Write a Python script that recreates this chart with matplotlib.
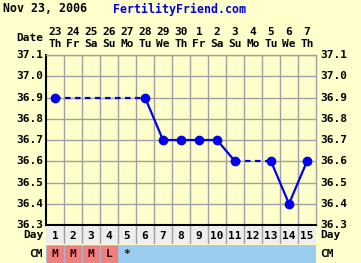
import numpy as np
import matplotlib
matplotlib.use("Agg")
import matplotlib.pyplot as plt
from matplotlib.patches import Rectangle

# chart data
dates = ["23", "24", "25", "26", "27", "28", "29", "30", "1", "2", "3", "4", "5", "6", "7"]
weekdays = ["Th", "Fr", "Sa", "Su", "Mo", "Tu", "We", "Th", "Fr", "Sa", "Su", "Mo", "Tu", "We", "Th"]
cycle_days = list(range(1, 16))
temps = [36.9, None, None, None, None, 36.9, 36.7, 36.7, 36.7, 36.7, 36.6, None, 36.6, 36.4, 36.6]
cm = ["M", "M", "M", "L", "*", "", "", "", "", "", "", "", "", "", ""]
y_ticks = [36.3, 36.4, 36.5, 36.6, 36.7, 36.8, 36.9, 37.0, 37.1]

W, H = 361, 263
BG = "#FFFFCC"
BLUE = "#0000EE"
GRID = "#A0A0A0"
FONT = dict(family="DejaVu Sans Mono", fontweight="bold", fontsize=8)

fig = plt.figure(figsize=(W / 100, H / 100), dpi=100)
fig.patch.set_facecolor(BG)


def px_axes(x0, y0, x1, y1):
    # axes from pixel box (top-left origin)
    return fig.add_axes([x0 / W, 1 - y1 / H, (x1 - x0) / W, (y1 - y0) / H])


left, right, top, bottom = 46, 316, 55, 225
ax = px_axes(left, top, right, bottom)
ax.set_facecolor(BG)
ax.set_xlim(0.5, 15.5)
ax.set_ylim(36.3, 37.1)
for x in np.arange(1.5, 15.5, 1):
    ax.axvline(x, color=GRID, lw=1.0, zorder=1)
for y in y_ticks[1:]:
    ax.axhline(y, color=GRID, lw=1.0, zorder=1)
ax.set_xticks([])
ax.set_yticks([])
for s in ["top", "right"]:
    ax.spines[s].set_color(GRID)
    ax.spines[s].set_linewidth(1.0)
ax.spines["left"].set_color("#000000")
ax.spines["left"].set_linewidth(1.5)
ax.spines["bottom"].set_color("#000000")
ax.spines["bottom"].set_linewidth(1.5)

# temperature line: solid between consecutive days, dashed over gaps
pts = [(d, t) for d, t in zip(cycle_days, temps) if t is not None]
for (d0, t0), (d1, t1) in zip(pts[:-1], pts[1:]):
    ls = "-" if d1 - d0 == 1 else (0, (2.5, 2))
    ax.plot([d0, d1], [t0, t1], color=BLUE, lw=1.6, ls=ls, zorder=3)
ax.plot([p[0] for p in pts], [p[1] for p in pts], "o", color=BLUE, ms=6, zorder=4)

# y labels on both sides
for y in y_ticks:
    ypx = top + (37.1 - y) / 0.8 * (bottom - top)
    fig.text(43 / W, 1 - ypx / H, f"{y:.1f}", ha="right", va="center", **FONT)
    fig.text(320 / W, 1 - ypx / H, f"{y:.1f}", ha="left", va="center", **FONT)

# header
HEAD = dict(FONT, fontsize=8.4)
fig.text(3 / W, 1 - 9 / H, "Nov 23, 2006", ha="left", va="center", **HEAD)
fig.text(113 / W, 1 - 9 / H, "FertilityFriend.com", ha="left", va="center",
         color="#0000DD", **HEAD)
fig.text(43 / W, 1 - 38 / H, "Date", ha="right", va="center", **FONT)
for i, (d, w) in enumerate(zip(dates, weekdays)):
    xc = (left + 18 * i + 9) / W
    fig.text(xc, 1 - 32 / H, d, ha="center", va="center", **FONT)
    fig.text(xc, 1 - 44 / H, w, ha="center", va="center", **FONT)

# Day row
ax_day = px_axes(left, bottom + 1, right, 244)
ax_day.set_xlim(0.5, 15.5)
ax_day.set_ylim(0, 1)
ax_day.axis("off")
ax_day.add_patch(Rectangle((0.5, 0), 15, 1, color="#EEEEEE", zorder=0))
for x in np.arange(1.5, 15.5, 1):
    ax_day.axvline(x, color=GRID, lw=1.0)
for d in cycle_days:
    ax_day.text(d, 0.45, str(d), ha="center", va="center", **FONT)
fig.text(43 / W, 1 - 235 / H, "Day", ha="right", va="center", **FONT)
fig.text(320 / W, 1 - 235 / H, "Day", ha="left", va="center", **FONT)

# CM row
ax_cm = px_axes(left, 245, right, H)
ax_cm.set_xlim(0.5, 15.5)
ax_cm.set_ylim(0, 1)
ax_cm.axis("off")
ax_cm.add_patch(Rectangle((0.5, 0), 15, 1, color="#99CCEE", zorder=0))
for d, c in zip(cycle_days, cm):
    if c in ("M", "L"):
        ax_cm.add_patch(Rectangle((d - 0.47, 0.05), 0.94, 0.9, color="#EE8080", zorder=1))
    if c:
        ax_cm.text(d, 0.5, c, ha="center", va="center", color="#330000", zorder=2, **FONT)
fig.text(43 / W, 1 - 254 / H, "CM", ha="right", va="center", **FONT)
fig.text(320 / W, 1 - 254 / H, "CM", ha="left", va="center", **FONT)

fig.savefig("out.png", dpi=100, facecolor=BG)
